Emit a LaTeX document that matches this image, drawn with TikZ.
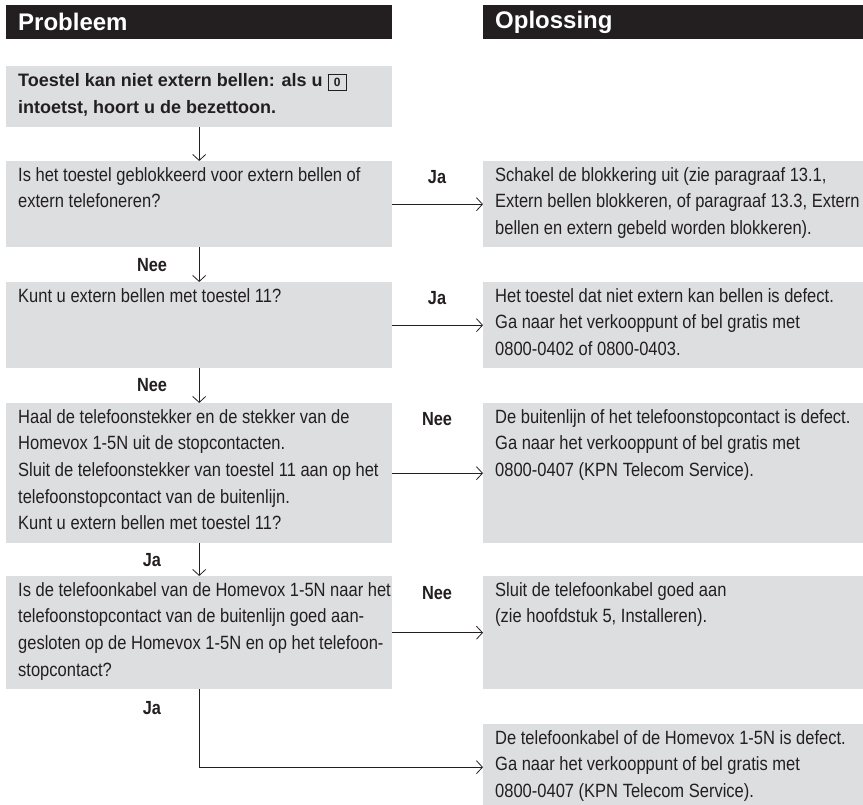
\documentclass[tikz,border=0pt]{standalone}
\usepackage{fontspec}
\setmainfont{Liberation Sans}
\newfontfamily\condfont{Liberation Sans}[FakeStretch=0.86]
\usepackage{xcolor}
\usetikzlibrary{arrows.meta,positioning}
\definecolor{boxgray}{RGB}{221,222,224}
\definecolor{inkblack}{RGB}{35,31,32}
\newcommand{\keycap}[1]{{\setlength{\fboxsep}{1.5pt}\setlength{\fboxrule}{0.7pt}%
	\fbox{\rule[-2.5pt]{0pt}{13pt}\makebox[15pt]{\fontsize{12}{12}\selectfont\bfseries #1}}}}

\begin{document}
\begin{tikzpicture}[x=1pt, y=-1pt, >={Straight Barb[length=6pt,width=13pt,line width=0.8pt]},
		header/.style={fill=inkblack, text=white, anchor=north west, inner xsep=12pt, inner ysep=0pt,
			minimum height=34pt, text width=#1, font=\fontsize{24}{24}\selectfont\bfseries},
		box/.style={fill=boxgray, anchor=north west, inner sep=0pt, minimum width=#1},
		txt/.style={anchor=north west, inner xsep=12pt, inner ysep=6pt, align=left, text=inkblack,
			font=\condfont\fontsize{19.2}{26.7}\selectfont},
		lbl/.style={text=inkblack, inner sep=0pt, font=\condfont\fontsize{19}{19}\selectfont\bfseries},
		conn/.style={draw=inkblack, line width=0.8pt}]
		\useasboundingbox (0,0) rectangle (863,805);
		
		\node[header=362pt] (hprob) at (6,5) {Probleem};
		\node[header=356pt] (hopl) at (483,5) {Oplossing};
		
		\node[box=386pt, minimum height=61pt] (q1) at (6,66) {};
		\node[box=386pt, minimum height=86pt] (q2) at (6,161) {};
		\node[box=386pt, minimum height=86pt] (q3) at (6,282) {};
		\node[box=386pt, minimum height=140pt] (q4) at (6,403) {};
		\node[box=386pt, minimum height=113pt] (q5) at (6,576) {};
		\node[box=380pt, minimum height=86pt] (a2) at (483,161) {};
		\node[box=380pt, minimum height=86pt] (a3) at (483,282) {};
		\node[box=380pt, minimum height=140pt] (a4) at (483,403) {};
		\node[box=380pt, minimum height=113pt] (a5) at (483,576) {};
		\node[box=380pt, minimum height=86pt] (a6) at (483,724) {};
		
		\node[txt, inner ysep=7pt, font=\fontsize{18}{27.5}\selectfont\bfseries] (q1t) at (q1.north west)
			{Toestel kan niet extern bellen: als u \keycap{0}\\ intoetst, hoort u de bezettoon.};
		\node[txt] (q2t) at (q2.north west) {Is het toestel geblokkeerd voor extern bellen of\\ extern telefoneren?};
		\node[txt] (q3t) at (q3.north west) {Kunt u extern bellen met toestel 11?};
		\node[txt] (q4t) at (q4.north west) {Haal de telefoonstekker en de stekker van de\\ Homevox 1-5N uit de stopcontacten.\\
			Sluit de telefoonstekker van toestel 11 aan op het\\ telefoonstopcontact van de buitenlijn.\\ Kunt u extern bellen met toestel 11?};
		\node[txt] (q5t) at (q5.north west) {Is de telefoonkabel van de Homevox 1-5N naar het\\ telefoonstopcontact van de buitenlijn goed aan-\\
			gesloten op de Homevox 1-5N en op het telefoon-\\ stopcontact?};
		\node[txt] (a2t) at (a2.north west) {Schakel de blokkering uit (zie paragraaf 13.1,\\ Extern bellen blokkeren, of paragraaf 13.3, Extern\\
			bellen en extern gebeld worden blokkeren).};
		\node[txt] (a3t) at (a3.north west) {Het toestel dat niet extern kan bellen is defect.\\ Ga naar het verkooppunt of bel gratis met\\ 0800-0402 of 0800-0403.};
		\node[txt] (a4t) at (a4.north west) {De buitenlijn of het telefoonstopcontact is defect.\\ Ga naar het verkooppunt of bel gratis met\\ 0800-0407 (KPN Telecom Service).};
		\node[txt] (a5t) at (a5.north west) {Sluit de telefoonkabel goed aan\\ (zie hoofdstuk 5, Installeren).};
		\node[txt] (a6t) at (a6.north west) {De telefoonkabel of de Homevox 1-5N is defect.\\ Ga naar het verkooppunt of bel gratis met\\ 0800-0407 (KPN Telecom Service).};
		
		\draw[conn,->] (q1) -- (q2); \draw[conn,->] (q2) -- (q3);
		\draw[conn,->] (q3) -- (q4); \draw[conn,->] (q4) -- (q5);
		\draw[conn,->] (q2) -- (a2); \draw[conn,->] (q3) -- (a3);
		\draw[conn,->] (q4) -- (a4); \draw[conn,->] (q5) -- (a5);
		\draw[conn,->] (q5.south) |- (a6.west);
		
		\node[lbl] (n2) at (152,265) {Nee}; \node[lbl] (n3) at (152,385) {Nee};
		\node[lbl] (j4) at (152,560) {Ja}; \node[lbl] (j5) at (152,708) {Ja};
		\node[lbl] (j2) at (437,177) {Ja}; \node[lbl] (j3) at (437,298) {Ja};
		\node[lbl] (n4) at (437,419) {Nee}; \node[lbl] (n5) at (437,593) {Nee};
	\end{tikzpicture}
\end{document}
